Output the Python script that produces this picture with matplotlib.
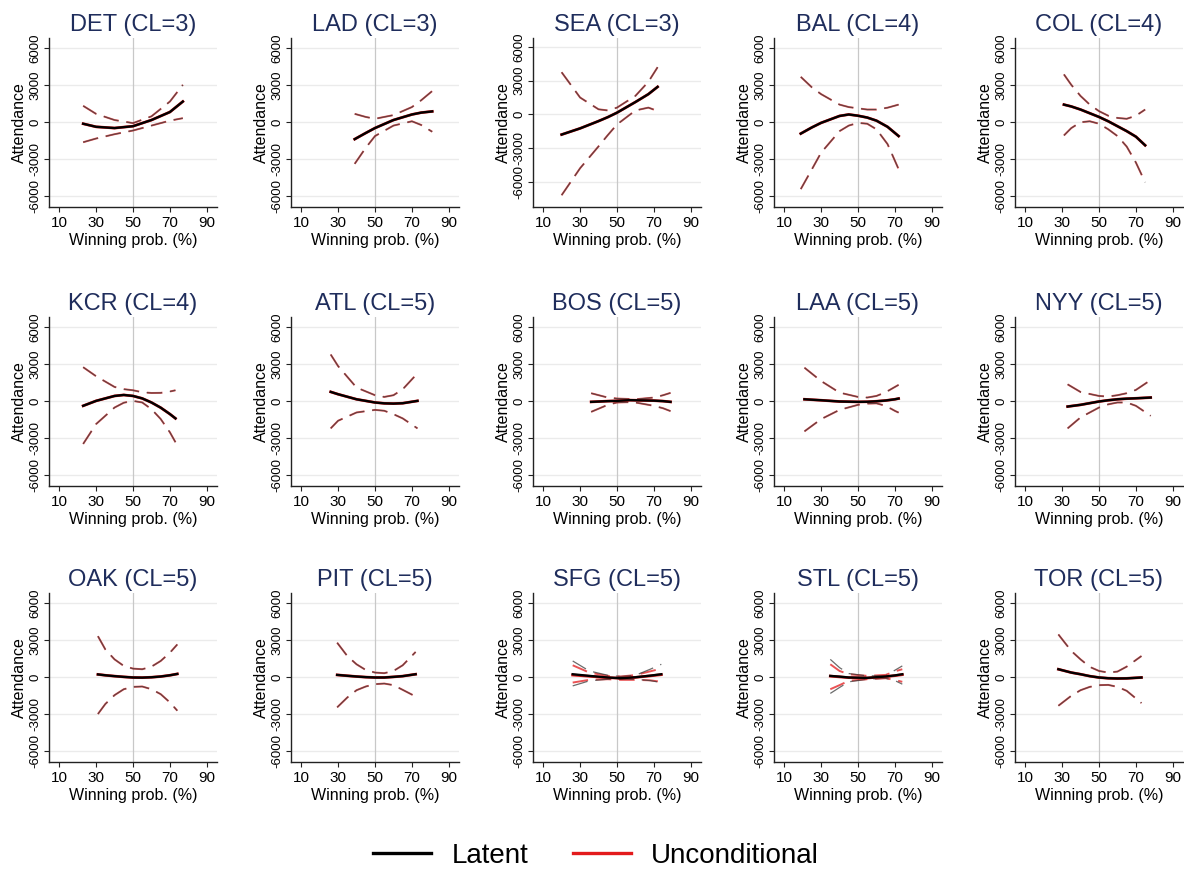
import matplotlib
matplotlib.use("Agg")
import matplotlib.pyplot as plt
from matplotlib.lines import Line2D

plt.rcParams['font.family'] = ['Liberation Sans', 'DejaVu Sans']
plt.rcParams['axes.unicode_minus'] = False

# teams and their cluster number
teams = ["DET", "LAD", "SEA", "BAL", "COL",
         "KCR", "ATL", "BOS", "LAA", "NYY",
         "OAK", "PIT", "SFG", "STL", "TOR"]
cl = [3, 3, 3, 4, 4, 4, 5, 5, 5, 5, 5, 5, 5, 5, 5]

# winning probability (%) where the curves were read
win_x = [
    [23, 30, 40, 50, 60, 70, 77],
    [39, 45, 50, 60, 70, 75, 81],
    [20, 30, 40, 45, 50, 60, 67, 72],
    [19, 25, 30, 40, 45, 50, 55, 60, 66, 72],
    [31, 35, 40, 45, 50, 55, 60, 65, 70, 75],
    [23, 30, 40, 45, 50, 55, 60, 65, 70, 73],
    [26, 30, 40, 50, 55, 60, 65, 73],
    [36, 45, 50, 57, 60, 70, 75, 79],
    [21, 30, 40, 50, 55, 60, 65, 70, 72],
    [33, 40, 50, 55, 60, 65, 70, 78],
    [31, 35, 40, 45, 50, 55, 60, 65, 70, 74],
    [29.5, 35, 40, 45, 50, 55, 60, 65, 72],
    [26, 35, 45, 52, 60, 68, 74],
    [35, 40, 45, 55, 65, 70, 74],
    [28, 35, 40, 45, 50, 55, 60, 65, 73],
]

# latent model: fitted attendance effect
latent_mid = [
    [-150, -400, -500, -350, 150, 800, 1650],
    [-1400, -900, -500, 150, 600, 750, 850],
    [-1800, -1250, -600, -250, 150, 1100, 1800, 2450],
    [-950, -450, -80, 480, 600, 500, 350, 100, -400, -1150],
    [1400, 1250, 1000, 700, 400, 50, -350, -750, -1200, -1900],
    [-400, 0, 400, 480, 400, 200, -130, -550, -1070, -1420],
    [730, 540, 130, -130, -200, -220, -190, 0],
    [-80, -20, 0, 60, 50, 20, -20, -80],
    [130, 50, -50, -80, -70, -30, 30, 130, 190],
    [-460, -320, -50, 50, 130, 180, 210, 270],
    [200, 130, 60, 0, -50, -60, -30, 30, 130, 240],
    [160, 90, 30, -20, -50, -50, 0, 60, 215],
    [215, 80, -50, -110, -30, 100, 215],
    [80, 20, -50, -80, 30, 120, 215],
    [620, 350, 215, 60, -50, -110, -130, -120, -50],
]

latent_hi = [
    [1300, 650, 150, -100, 450, 1650, 3000],
    [650, 400, 250, 550, 1200, 1750, 2500],
    [3750, 1500, 450, 350, 600, 1650, 2900, 4200],
    [3650, 2800, 2250, 1400, 1200, 1100, 1000, 1000, 1150, 1400],
    [3850, 3000, 2100, 1400, 870, 500, 320, 250, 500, 1000],
    [2730, 2000, 1130, 950, 860, 700, 640, 650, 760, 860],
    [3760, 2820, 1080, 460, 320, 460, 940, 2230],
    [620, 270, 190, 150, 130, 270, 460, 650],
    [2690, 1610, 670, 320, 270, 400, 700, 1130, 1300],
    [1340, 720, 400, 350, 460, 620, 890, 1690],
    [3300, 2230, 1420, 890, 670, 620, 830, 1290, 1960, 2630],
    [2770, 1690, 1020, 560, 350, 300, 480, 940, 2020],
    [1290, 480, 130, 30, 130, 620, 1020],
    [1420, 750, 270, 80, 100, 540, 890],
    [3440, 2100, 1420, 810, 480, 350, 430, 830, 1690],
]

latent_lo = [
    [-1650, -1350, -1000, -700, -300, 100, 300],
    [-3400, -2100, -1150, -300, 50, -250, -800],
    [-7200, -4800, -2850, -1850, -900, 350, 600, 300],
    [-5450, -3850, -2500, -750, -300, -80, -150, -600, -1800, -3830],
    [-1100, -500, -30, 50, -150, -600, -1150, -2000, -3300, -4900],
    [-3490, -1880, -540, -150, 0, -130, -670, -1470, -2550, -3350],
    [-2230, -1610, -940, -730, -800, -1080, -1420, -2230],
    [-890, -320, -130, -100, -130, -400, -600, -830],
    [-2470, -1480, -730, -320, -220, -200, -400, -810, -950],
    [-2230, -1340, -540, -280, -130, -130, -400, -1210],
    [-3010, -2200, -1480, -1000, -810, -780, -1000, -1400, -2070, -2740],
    [-2470, -1670, -1080, -780, -590, -540, -670, -1050, -1590],
    [-730, -320, -190, -190, -190, -300, -460],
    [-1340, -860, -400, -190, -110, -300, -590],
    [-2340, -1530, -1080, -810, -670, -650, -810, -1130, -2120],
]

# unconditional model: same as latent except where it visibly differs
uncond_mid = {"SFG": [150, 50, -60, -110, -40, 80, 180],
              "STL": [60, 0, -60, -90, 20, 100, 180]}
uncond_hi = {"SFG": [940, 350, 80, 30, 150, 450, 670],
             "STL": [1020, 480, 215, 80, 160, 450, 620]}
uncond_lo = {"SFG": [-460, -240, -190, -240, -240, -280, -400],
             "STL": [-1000, -670, -320, -190, -110, -250, -400]}

W, H = 1184, 871
fig = plt.figure(figsize=(W / 100, H / 100), dpi=100)

col_left = [49, 291, 533, 774, 1015]
row_top = [38, 317, 593]
ax_w, ax_h = 168, 169

RED = "#e31a1c"
navy = "#1f2d5c"

for i, team in enumerate(teams):
    r, c = divmod(i, 5)
    ax = fig.add_axes([col_left[c] / W, 1 - (row_top[r] + ax_h) / H, ax_w / W, ax_h / H])
    x = win_x[i]
    lm, lh, ll = latent_mid[i], latent_hi[i], latent_lo[i]
    um = uncond_mid.get(team, lm)
    uh = uncond_hi.get(team, lh)
    ul = uncond_lo.get(team, ll)

    for g in [-6000, -3000, 0, 3000, 6000]:
        ax.axhline(g, color="#ebebeb", lw=1.0, zorder=0)
    ax.axvline(50, color="#c8c8c8", lw=0.9, zorder=0)

    # dashed CI bounds, dash patterns in points kept equal for both widths
    ax.plot(x, uh, color=RED, lw=1.4, dashes=(8, 4), alpha=0.75)
    ax.plot(x, ul, color=RED, lw=1.4, dashes=(8, 4), alpha=0.75)
    ax.plot(x, lh, color="#3a3a3a", lw=0.9, dashes=(12.4, 6.2), alpha=0.75)
    ax.plot(x, ll, color="#3a3a3a", lw=0.9, dashes=(12.4, 6.2), alpha=0.75)
    ax.plot(x, um, color=RED, lw=2.0)
    ax.plot(x, lm, color="black", lw=1.7)

    ymin = min(-6900, min(ll) - 1050)
    ax.set_ylim(ymin, 6800)
    ax.set_xlim(4.5, 95.5)
    ax.set_xticks([10, 30, 50, 70, 90])
    ax.set_yticks([-6000, -3000, 0, 3000, 6000])
    for s in ["top", "right"]:
        ax.spines[s].set_visible(False)
    for s in ["left", "bottom"]:
        ax.spines[s].set_color("#222222")
        ax.spines[s].set_linewidth(1.0)
    ax.tick_params(axis="x", length=3.5, width=0.8, color="#222222", labelsize=11, pad=3)
    ax.tick_params(axis="y", length=3.5, width=0.8, color="#222222", pad=2)
    for lbl in ax.get_yticklabels():
        lbl.set_rotation(90)
        lbl.set_va("center")
        lbl.set_ha("right")
        lbl.set_fontsize(9.5)
        lbl.set_family(["Liberation Sans Narrow", "Liberation Sans"])
    ax.set_xlabel("Winning prob. (%)", fontsize=11.5, labelpad=2)
    ax.set_ylabel("Attendance", fontsize=11.5, labelpad=2)
    ax.set_title(f"{team} (CL={cl[i]})", fontsize=17, color=navy, pad=5)

handles = [Line2D([], [], color="black", lw=2.4),
           Line2D([], [], color=RED, lw=2.4)]
fig.legend(handles, ["Latent", "Unconditional"], loc="center",
           bbox_to_anchor=(596 / W, 1 - 856 / H), ncol=2, frameon=False,
           fontsize=20, handlelength=2.1, handletextpad=0.72, columnspacing=1.6)

fig.savefig("out.png", dpi=100, facecolor="white")
